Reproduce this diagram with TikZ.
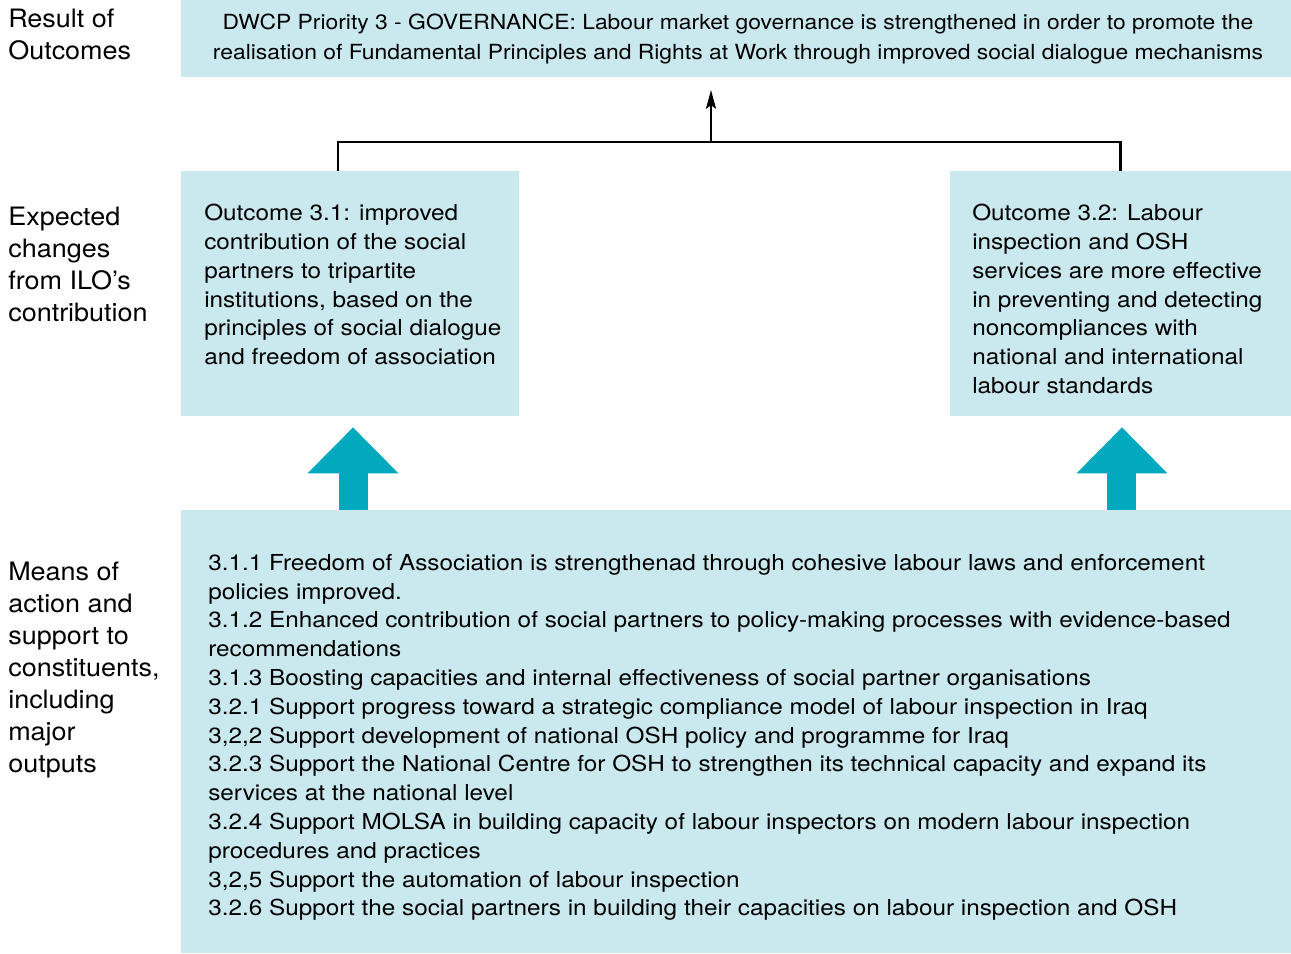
\documentclass[tikz,border=0pt]{standalone}
\usepackage{fontspec}
\setmainfont{TeX Gyre Heros}
\newfontfamily\bodyfont[FakeStretch=1.105]{TeX Gyre Heros}
\newfontfamily\sidefont[FakeStretch=1.065]{TeX Gyre Heros}
\newfontfamily\priofont[FakeStretch=1.1]{TeX Gyre Heros}
\usetikzlibrary{arrows.meta}
\definecolor{boxblue}{HTML}{CAE9EF}
\definecolor{teal}{HTML}{00A9BD}
\begin{document}
\begin{tikzpicture}[x=0.75pt,y=-0.75pt,
  sidelabel/.style={anchor=north west,inner sep=0,align=left,
    font=\sidefont\fontsize{19pt}{24pt}\selectfont},
  bodytext/.style={anchor=north west,inner sep=0,align=left,
    font=\bodyfont\fontsize{16.5pt}{21.6pt}\selectfont},
  link/.style={line width=1.6pt,black},
  bigarrow/.style={teal,line width=21.75pt,
    -{Triangle[length=34.5pt,width=66pt]}}]
\useasboundingbox (0,0) rectangle (1291,953);

% background panels
\fill[boxblue] (181,0) rectangle (1291,77);
\fill[boxblue] (181,171) rectangle (519,416);
\fill[boxblue] (950,171) rectangle (1291,416);
\fill[boxblue] (181,510) rectangle (1291,953);
\path (181,0) coordinate (topNW) (1291,77) coordinate (topSE);
\node[inner sep=0,minimum width=338*0.75pt,minimum height=245*0.75pt] (o31) at (350,293.5) {};
\node[inner sep=0,minimum width=341*0.75pt,minimum height=245*0.75pt] (o32) at (1120.5,293.5) {};
\node[inner sep=0,minimum width=1110*0.75pt,minimum height=443*0.75pt] (means) at (736,731.5) {};

% side labels
\node[sidelabel] (lab1) at (8,9) {Result of\\Outcomes};
\node[sidelabel] (lab2) at (8,207) {Expected\\changes\\from ILO’s\\contribution};
\node[sidelabel] (lab3) at (8,562) {Means of\\action and\\support to\\constituents,\\including\\major\\outputs};

% priority text
\node[inner sep=0,align=center,anchor=north,
  font=\priofont\fontsize{15.6pt}{22.5pt}\selectfont] (priotext) at (738,14)
  {DWCP Priority 3 - GOVERNANCE: Labour market governance is strengthened in order to promote the\\
   realisation of Fundamental Principles and Rights at Work through improved social dialogue mechanisms};

% outcome texts
\node[bodytext] (t31) at (204,204) {Outcome 3.1: improved\\contribution of the social\\partners to tripartite\\institutions, based on the\\principles of social dialogue\\and freedom of association};
\node[bodytext] (t32) at (972,204) {Outcome 3.2: Labour\\inspection and OSH\\services are more effective\\in preventing and detecting\\noncompliances with\\national and international\\labour standards};

% outputs text
\node[bodytext] (tout) at (208,554) {3.1.1 Freedom of Association is strengthenad through cohesive labour laws and enforcement\\
policies improved.\\
3.1.2 Enhanced contribution of social partners to policy-making processes with evidence-based\\
recommendations\\
3.1.3 Boosting capacities and internal effectiveness of social partner organisations\\
3.2.1 Support progress toward a strategic compliance model of labour inspection in Iraq\\
3,2,2 Support development of national OSH policy and programme for Iraq\\
3.2.3 Support the National Centre for OSH to strengthen its technical capacity and expand its\\
services at the national level\\
3.2.4 Support MOLSA in building capacity of labour inspectors on modern labour inspection\\
procedures and practices\\
3,2,5 Support the automation of labour inspection\\
3.2.6 Support the social partners in building their capacities on labour inspection and OSH};

% bracket connector from outcomes to priority
\coordinate (join) at (711,142);
\draw[link] ([xshift=-9pt]o31.north) |- (join) -| (o32.north);
\draw[link,-{Stealth[length=14pt,width=7.5pt,inset=2.5pt]},shorten >=9.75pt] (join) -- (join |- topSE);

% thick arrows from outputs to outcomes
\draw[bigarrow,shorten >=8.25pt] ([xshift=2.25pt]o31.south |- means.north) -- ([xshift=2.25pt]o31.south);
\draw[bigarrow,shorten >=8.25pt] ([xshift=1.1pt]o32.south |- means.north) -- ([xshift=1.1pt]o32.south);
\end{tikzpicture}
\end{document}
